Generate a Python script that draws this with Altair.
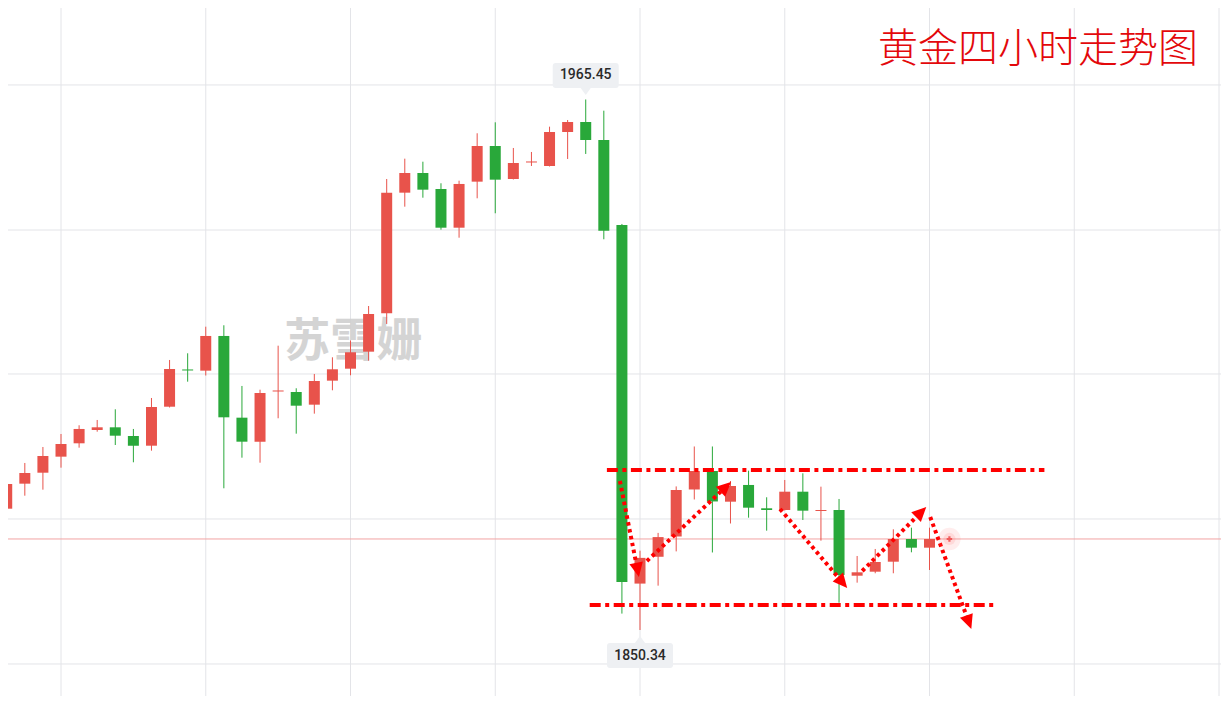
import math
import altair as alt
import pandas as pd

# ---------------- data (4h gold candles) ----------------
opens = [1876.66, 1882.09, 1884.47, 1887.95, 1890.85, 1893.74, 1894.32, 1892.44, 1890.33, 1898.79,
         1906.87, 1906.61, 1914.14, 1896.41, 1891.20, 1902.09, 1901.98, 1899.23, 1904.44, 1907.04,
         1910.73, 1919.06, 1945.23, 1949.50, 1946.03, 1937.63, 1947.62, 1955.36, 1948.20, 1951.78,
         1951.02, 1958.40, 1960.57, 1956.66, 1938.22, 1860.41, 1866.23, 1870.63, 1880.83, 1884.84,
         1878.18, 1881.81, 1876.75, 1876.38, 1880.35, 1876.16, 1876.38, 1862.12, 1862.99, 1865.16,
         1870.09, 1868.20]
highs = [1885.28, 1886.58, 1890.05, 1892.87, 1894.76, 1895.91, 1898.23, 1893.96, 1900.68, 1908.93,
         1910.38, 1916.15, 1916.46, 1903.29, 1902.48, 1912.03, 1902.79, 1905.89, 1909.51, 1913.16,
         1920.64, 1948.20, 1952.61, 1951.95, 1947.27, 1947.83, 1958.12, 1960.50, 1954.93, 1954.06,
         1959.55, 1961.00, 1965.45, 1963.02, 1938.44, 1867.55, 1871.41, 1881.50, 1890.16, 1890.16,
         1882.67, 1884.91, 1879.14, 1882.89, 1884.34, 1881.44, 1878.77, 1866.40, 1867.92, 1872.19,
         1872.54, 1872.54]
lows = [1873.13, 1879.48, 1880.79, 1885.56, 1889.90, 1893.37, 1890.48, 1886.73, 1889.25, 1898.62,
        1904.22, 1905.56, 1881.09, 1887.73, 1886.64, 1896.28, 1892.94, 1897.28, 1902.35, 1905.61,
        1908.78, 1916.74, 1942.19, 1944.14, 1937.20, 1935.46, 1944.01, 1940.76, 1948.09, 1951.02,
        1950.91, 1952.54, 1953.63, 1935.12, 1853.90, 1850.34, 1859.96, 1867.40, 1878.66, 1867.16,
        1873.45, 1874.71, 1871.89, 1876.27, 1874.21, 1869.72, 1856.27, 1860.61, 1862.65, 1862.65,
        1867.20, 1863.36]
closes = [1882.02, 1884.41, 1888.10, 1890.70, 1893.96, 1894.32, 1892.50, 1890.33, 1898.73, 1906.97,
          1906.65, 1914.14, 1896.49, 1891.20, 1901.77, 1902.31, 1899.01, 1904.37, 1906.91, 1910.60,
          1918.91, 1945.23, 1949.50, 1945.88, 1937.63, 1947.12, 1955.36, 1948.05, 1951.67, 1952.00,
          1958.40, 1960.57, 1956.66, 1936.98, 1860.74, 1865.99, 1870.50, 1880.72, 1884.84, 1878.23,
          1881.59, 1876.88, 1876.38, 1880.35, 1876.23, 1876.38, 1862.28, 1862.86, 1865.10, 1870.09,
          1868.20, 1870.09]

# extreme labels
extreme_index = [32, 35]
extreme_price = [1965.45, 1850.34]
extreme_side = ["high", "low"]

# dash-dot range lines
range_price = [1885.06, 1855.77]
range_start = [33.17, 32.22]
range_end = [57.35, 54.58]

# dotted arrows (start index/price -> tip index/price)
arrow_i0 = [33.89, 35.38, 42.74, 47.28, 51.04]
arrow_p0 = [1882.67, 1865.31, 1876.60, 1863.14, 1874.86]
arrow_i1 = [34.94, 40.03, 46.45, 50.82, 53.31]
arrow_p1 = [1861.84, 1882.46, 1859.46, 1877.03, 1850.56]

title_text = "黄金四小时走势图"
title_pos = [57.0, 1976.19]
watermark_text = "苏雪姗"
watermark_pos = [19.15, 1912.83]

x_grid = [3, 11, 19, 27, 35, 43, 51, 59, 67]
y_grid = [1842.97, 1874.43, 1905.89, 1937.13, 1968.60]

# ---------------- layout ----------------
W, H = 1213, 688
X_DOMAIN = [0.0707, 67.11]
Y_DOMAIN = [1836.02, 1985.30]
PX = W / (X_DOMAIN[1] - X_DOMAIN[0])
PY = H / (Y_DOMAIN[1] - Y_DOMAIN[0])

RED = "#e8534b"
GREEN = "#29a83a"
ANN = "#ff0000"

xs = alt.Scale(domain=X_DOMAIN, nice=False, zero=False, padding=0)
ys = alt.Scale(domain=Y_DOMAIN, nice=False, zero=False, padding=0)


def X(f):
    return alt.X(f"{f}:Q", scale=xs, axis=None)


def Y(f):
    return alt.Y(f"{f}:Q", scale=ys, axis=None)


n = len(opens)
candles = pd.DataFrame({
    "i": list(range(n)),
    "o": opens, "h": highs, "l": lows, "c": closes,
})
candles["dir"] = ["up" if c >= o else "down" for o, c in zip(opens, closes)]
col = alt.Color("dir:N", scale=alt.Scale(domain=["up", "down"], range=[RED, GREEN]), legend=None)

GRID = "#e3e4e8"
vgrid = alt.Chart(pd.DataFrame({"i": x_grid})).mark_rule(color=GRID, strokeWidth=1).encode(x=X("i"))
hgrid = alt.Chart(pd.DataFrame({"p": y_grid})).mark_rule(color=GRID, strokeWidth=1).encode(y=Y("p"))

# current price line
price_line = alt.Chart(pd.DataFrame({"p": [closes[-1]]})).mark_rule(
    color="#f2a3a3", strokeWidth=1).encode(y=Y("p"))

wicks = alt.Chart(candles).mark_rule(strokeWidth=1, clip=True).encode(
    x=X("i"), y=Y("l"), y2="h:Q", color=col)
bodies = alt.Chart(candles).mark_bar(width=11, clip=True).encode(
    x=X("i"), y=Y("o"), y2="c:Q", color=col)

# watermark & title
wm = alt.Chart(pd.DataFrame({"i": [watermark_pos[0]], "p": [watermark_pos[1]], "t": [watermark_text]})).mark_text(
    font="Noto Sans CJK SC", fontSize=46, fontWeight="bold", color="#d0d0d0", opacity=0.9,
    align="center", baseline="middle").encode(x=X("i"), y=Y("p"), text="t:N")
title = alt.Chart(pd.DataFrame({"i": [title_pos[0]], "p": [title_pos[1]], "t": [title_text]})).mark_text(
    font="Noto Sans CJK SC", fontSize=40, fontWeight=300, color="#e3080b",
    align="center", baseline="middle").encode(x=X("i"), y=Y("p"), text="t:N")

# range lines
rng = pd.DataFrame({"p": range_price, "i0": range_start, "i1": range_end})
range_rules = alt.Chart(rng).mark_rule(color=ANN, strokeWidth=4, strokeDash=[11, 4.5, 4, 4.5]).encode(
    x=X("i0"), x2="i1:Q", y=Y("p"))

# arrows
rows = []
for a, b, c, d in zip(arrow_i0, arrow_p0, arrow_i1, arrow_p1):
    dxp = (c - a) * PX
    dyp = -(d - b) * PY
    L = math.hypot(dxp, dyp)
    ux, uy = dxp / L, dyp / L
    ang = math.degrees(math.atan2(ux, -uy)) % 360
    back = 8.0
    ci = c - ux * back / PX
    cp = d + uy * back / PY
    ei = c - ux * 10 / PX
    ep = d + uy * 10 / PY
    rows.append({"i0": a, "p0": b, "ie": ei, "pe": ep, "ic": ci, "pc": cp, "ang": ang})
arr = pd.DataFrame(rows)
arrow_lines = alt.Chart(arr).mark_rule(color=ANN, strokeWidth=4, strokeDash=[3.5, 3.5]).encode(
    x=X("i0"), x2="ie:Q", y=Y("p0"), y2="pe:Q")
head_path = "M0,-1 L-0.85,0.8 L0.85,0.8 Z"
arrow_heads = alt.Chart(arr).mark_point(shape=head_path, size=256, filled=True, color=ANN, opacity=1).encode(
    x=X("ic"), y=Y("pc"), angle=alt.Angle("ang:Q", scale=None))

# crosshair marker at the last price
cur = pd.DataFrame({"i": [n + 0.1], "p": [closes[-1]]})
glow = alt.Chart(cur).mark_point(shape="circle", size=500, filled=True, color="#ff6b6b", opacity=0.12).encode(
    x=X("i"), y=Y("p"))
glow2 = alt.Chart(cur).mark_point(shape="circle", size=150, filled=True, color="#ff6b6b", opacity=0.15).encode(
    x=X("i"), y=Y("p"))
cross = alt.Chart(cur).mark_point(shape="cross", size=30, filled=True, color="#ee4444", opacity=0.8).encode(
    x=X("i"), y=Y("p"))

# extreme value labels
box_path = ("M-0.91,-0.379 L0.91,-0.379 Q1,-0.379 1,-0.289 L1,0.289 Q1,0.379 0.91,0.379 "
            "L0.152,0.379 L0,0.591 L-0.152,0.379 L-0.91,0.379 Q-1,0.379 -1,0.289 "
            "L-1,-0.289 Q-1,-0.379 -0.91,-0.379 Z")
ext = pd.DataFrame({"i": extreme_index, "p": extreme_price, "side": extreme_side})
ext["t"] = [f"{v:.2f}" for v in extreme_price]
label_layers = []
for side, off, ang in [("high", -24, 0), ("low", 25.5, 180)]:
    d = ext[ext["side"] == side]
    label_layers.append(alt.Chart(d).mark_point(shape=box_path, size=4356, filled=True, color="#eef0f3",
                                                opacity=1, yOffset=off, angle=ang).encode(x=X("i"), y=Y("p")))
    label_layers.append(alt.Chart(d).mark_text(font="Roboto", fontSize=14, fontWeight=500, color="#2a2a2a",
                                               dy=off, align="center", baseline="middle").encode(
        x=X("i"), y=Y("p"), text="t:N"))

chart = alt.layer(
    vgrid, hgrid, price_line, wm, wicks, bodies, range_rules, arrow_lines, arrow_heads,
    glow, glow2, cross, *label_layers, title
).properties(
    width=W, height=H, autosize=alt.AutoSizeParams(type="none"), padding=0, background="#ffffff"
).configure_view(stroke=None)

chart.save("out.html", embed_options={"renderer": "svg", "actions": False})
